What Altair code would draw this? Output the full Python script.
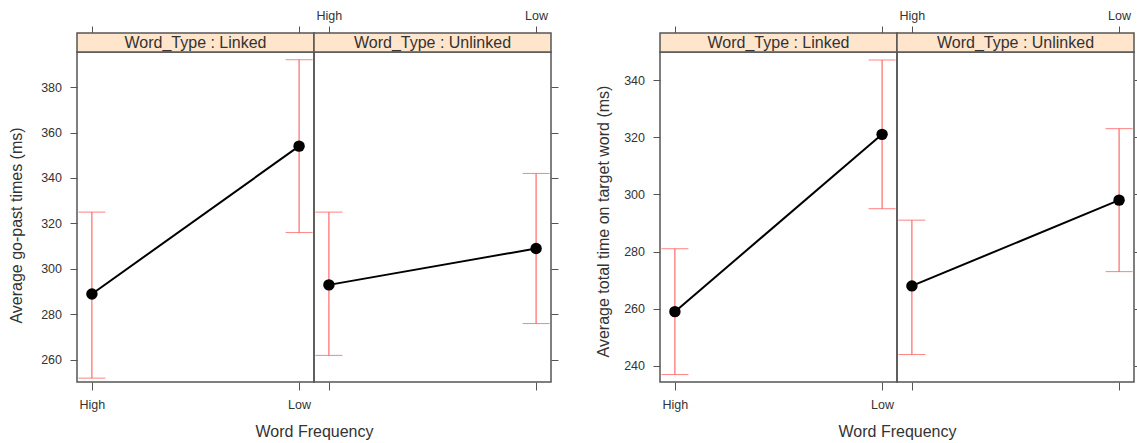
import altair as alt
import pandas as pd

# ---- data ----
freq = ["High", "Low"]
word_types = ["Linked", "Unlinked"]

# Figure 1: go-past times (ms)
gp_mean = {"Linked": [289, 354], "Unlinked": [293, 309]}
gp_lo = {"Linked": [252, 316], "Unlinked": [262, 276]}
gp_hi = {"Linked": [325, 392], "Unlinked": [325, 342]}
gp_ticks = [260, 280, 300, 320, 340, 360, 380]
gp_domain = [250.3, 395.4]

# Figure 2: total time on target word (ms)
tt_mean = {"Linked": [259, 321], "Unlinked": [268, 298]}
tt_lo = {"Linked": [237, 295], "Unlinked": [244, 273]}
tt_hi = {"Linked": [281, 347], "Unlinked": [291, 323]}
tt_ticks = [240, 260, 280, 300, 320, 340]
tt_domain = [234.4, 349.8]

RED = "#ff4d4d"
FONT = "Liberation Sans"
PW = 237
PH = 330
STRIP = 19


def make_panel(wt, mean, lo, hi, ydomain, yticks, first, ytitle, title_x, title_y):
    df = pd.DataFrame({"freq": freq, "mean": mean[wt], "lo": lo[wt], "hi": hi[wt]})
    strip_df = pd.DataFrame({"t": ["Word_Type : " + wt]})
    xs = alt.Scale(type="point", domain=freq, padding=0.072)
    ys = alt.Scale(domain=ydomain, nice=False, zero=False)
    common = dict(domain=False, grid=False, tickColor="#555", tickWidth=1,
                  labelColor="#333", labelFontSize=12.5, labelFont=FONT)
    ttl = dict(titleFontWeight="normal", titleColor="#333", titleFont=FONT)
    if first:
        xb = alt.Axis(orient="bottom", title="Word Frequency", labelAngle=0,
                      tickSize=8, labelPadding=8.5,
                      titleX=PW, titleY=41, titleAlign="center", titleFontSize=16,
                      **ttl, **common)
        xt = alt.Axis(orient="top", title=None, labels=False, tickSize=7,
                      offset=STRIP, **common)
        ya = alt.Axis(orient="left", title=ytitle, values=yticks, tickSize=7,
                      labelPadding=8.5, titleX=title_x, titleY=title_y,
                      titleAlign="center", titleFontSize=16, **ttl, **common)
    else:
        xb = alt.Axis(orient="bottom", title=None, labels=False, tickSize=8, **common)
        xt = alt.Axis(orient="top", title=None, labelAngle=0, tickSize=7,
                      labelPadding=4, offset=STRIP, **common)
        ya = alt.Axis(orient="right", title=None, labels=False, values=yticks,
                      tickSize=7, **common)

    base = alt.Chart(df)
    bars = base.mark_rule(color=RED, strokeWidth=1).encode(
        x=alt.X("freq:N", scale=xs, axis=xb, sort=freq),
        y=alt.Y("lo:Q", scale=ys, axis=ya),
        y2="hi:Q",
    )
    cap_lo = base.mark_tick(color=RED, size=27, thickness=1).encode(
        x=alt.X("freq:N", scale=xs, axis=xt, sort=freq),
        y=alt.Y("lo:Q", scale=ys, axis=ya),
    )
    cap_hi = base.mark_tick(color=RED, size=27, thickness=1).encode(
        x=alt.X("freq:N", scale=xs, axis=None, sort=freq),
        y=alt.Y("hi:Q", scale=ys, axis=ya),
    )
    line = base.mark_line(color="black", strokeWidth=2).encode(
        x=alt.X("freq:N", scale=xs, axis=None, sort=freq),
        y=alt.Y("mean:Q", scale=ys, axis=ya),
    )
    pts = base.mark_circle(color="black", opacity=1, size=130).encode(
        x=alt.X("freq:N", scale=xs, axis=None, sort=freq),
        y=alt.Y("mean:Q", scale=ys, axis=ya),
    )
    strip_rect = alt.Chart(strip_df).mark_rect(
        fill="#ffe5cc", stroke="#555", strokeWidth=1.5
    ).encode(x=alt.value(0), x2=alt.value(PW), y=alt.value(-STRIP), y2=alt.value(0))
    strip_text = alt.Chart(strip_df).mark_text(
        fontSize=16, font=FONT, color="#333", baseline="middle", align="center"
    ).encode(text="t:N", x=alt.value(PW / 2), y=alt.value(-STRIP / 2 + 0.5))

    return alt.layer(bars, cap_lo, cap_hi, line, pts, strip_rect, strip_text).resolve_axis(
        x="independent"
    ).properties(width=PW, height=PH)


def make_figure(mean, lo, hi, ydomain, yticks, ytitle, title_x, title_y):
    p1 = make_panel(word_types[0], mean, lo, hi, ydomain, yticks, True, ytitle,
                    title_x, title_y)
    p2 = make_panel(word_types[1], mean, lo, hi, ydomain, yticks, False, ytitle,
                    title_x, title_y)
    return alt.hconcat(p1, p2, spacing=0, bounds="flush")


fig1 = make_figure(gp_mean, gp_lo, gp_hi, gp_domain, gp_ticks,
                   "Average go-past times (ms)", -53, 173)
fig2 = make_figure(tt_mean, tt_lo, tt_hi, tt_domain, tt_ticks,
                   "Average total time on target word (ms)", -49, 169)

chart = alt.hconcat(fig1, fig2, spacing=583, bounds="flush").properties(
    autosize=alt.AutoSizeParams(type="none"),
    padding={"left": 77, "top": 52, "right": 1060, "bottom": 391},
    background="white",
).configure_view(stroke="#555", strokeWidth=1.5)

chart.save("out.html", embed_options={"renderer": "svg", "actions": False})
